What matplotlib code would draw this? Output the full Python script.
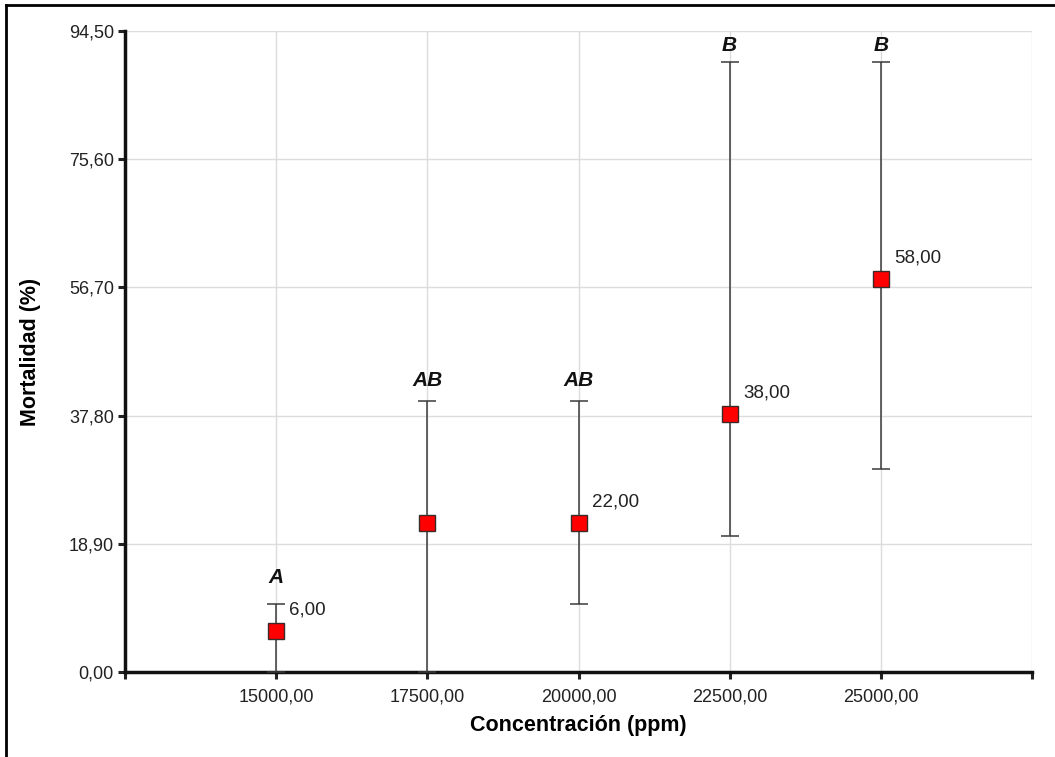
import matplotlib
matplotlib.use("Agg")
import matplotlib.pyplot as plt
from matplotlib.lines import Line2D

plt.rcParams['font.family'] = ['Liberation Sans', 'DejaVu Sans']

# concentration levels and mortality (mean with interval limits)
concentrations = [15000, 17500, 20000, 22500, 25000]
mortality = [6.0, 22.0, 22.0, 38.0, 58.0]
lower = [0.0, 0.0, 10.0, 20.0, 30.0]
upper = [10.0, 40.0, 40.0, 90.0, 90.0]
show_value = [True, False, True, True, True]

# significance groups and the height they sit at
groups = ['A', 'AB', 'AB', 'B', 'B']
group_y = [13.9, 43.0, 43.0, 92.3, 92.3]

x_ticks = [12500, 15000, 17500, 20000, 22500, 25000, 27500]
x_tick_labels = ['', '15000,00', '17500,00', '20000,00', '22500,00', '25000,00', '']
y_ticks = [0.0, 18.9, 37.8, 56.7, 75.6, 94.5]


def fmt(v):
    return f'{v:.2f}'.replace('.', ',')


fig = plt.figure(figsize=(10.55, 7.57), dpi=100)
ax = fig.add_axes([0.1185, 0.1123, 0.8597, 0.8467])

err = [[m - lo for m, lo in zip(mortality, lower)],
       [hi - m for m, hi in zip(mortality, upper)]]
ax.errorbar(concentrations, mortality, yerr=err, fmt='none', ecolor='#3a3a3a',
            elinewidth=1.1, capsize=6.5, capthick=1.1, zorder=3)
ax.plot(concentrations, mortality, linestyle='none', marker='s', markersize=11.5,
        markerfacecolor='#ff0000', markeredgecolor='#3a2a2a', markeredgewidth=1.0, zorder=4)

for x, m, show in zip(concentrations, mortality, show_value):
    if show:
        ax.annotate(fmt(m), (x, m), xytext=(9.5, 15), textcoords='offset points',
                    ha='left', va='center', fontsize=13.5, color='#222222')

for x, g, gy in zip(concentrations, groups, group_y):
    ax.text(x, gy, g, ha='center', va='center', fontsize=15, fontweight='bold',
            fontstyle='italic', color='#111111')

ax.set_xlim(12500, 27500)
ax.set_ylim(0, 94.5)
ax.set_xticks(x_ticks)
ax.set_xticklabels(x_tick_labels)
ax.set_yticks(y_ticks)
ax.set_yticklabels([fmt(v) for v in y_ticks])
ax.tick_params(axis='both', direction='out', length=5, width=2.2, labelsize=13,
               colors='#222222', pad=3)
ax.tick_params(axis='x', pad=7)

ax.grid(True, color='#dcdcdc', linewidth=1.0, zorder=0)
ax.set_axisbelow(True)
for side in ['top', 'right']:
    ax.spines[side].set_visible(False)
for side in ['left', 'bottom']:
    ax.spines[side].set_linewidth(2.5)
    ax.spines[side].set_color('#111111')

ax.set_xlabel('Concentración (ppm)', fontsize=15.5, fontweight='bold', va='center')
ax.set_ylabel('Mortalidad (%)', fontsize=15.5, fontweight='bold', va='center')
ax.xaxis.set_label_coords(0.5, -0.083)
ax.yaxis.set_label_coords(-0.104, 0.5)

# page border on top and left edges
fig.add_artist(Line2D([0.0057, 1.0], [0.9934, 0.9934], transform=fig.transFigure,
                      color='black', linewidth=2.0))
fig.add_artist(Line2D([0.0057, 0.0057], [0.0, 0.9934], transform=fig.transFigure,
                      color='black', linewidth=2.0))

fig.savefig('out.png', dpi=100)
